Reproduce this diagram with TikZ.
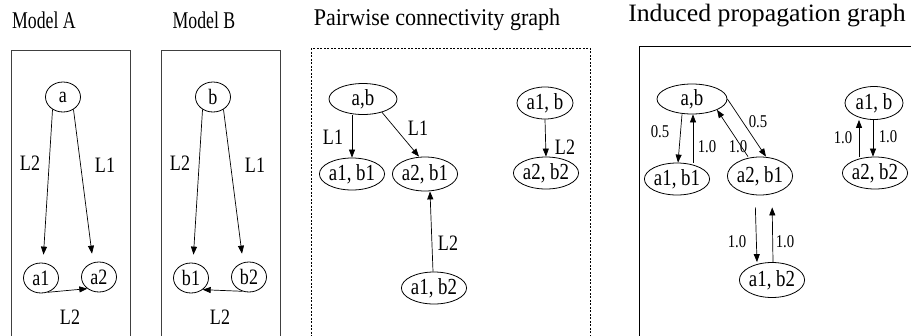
\documentclass[tikz,border=0pt]{standalone}
\usepackage{fontspec}
\usepackage{graphicx}
\setmainfont{Liberation Serif}
\usetikzlibrary{arrows.meta,shapes.geometric}
\newcommand{\sq}[2][0.82]{\scalebox{#1}[1]{#2}}
\begin{document}
\begin{tikzpicture}[x=1pt,y=-1pt,
  every node/.style={inner sep=0pt},
  title/.style={font=\fontsize{24}{26}\selectfont},
  lbl/.style={font=\fontsize{22}{24}\selectfont},
  wlbl/.style={font=\fontsize{18}{20}\selectfont},
  circ/.style={ellipse,draw,line width=0.8pt,minimum width=35pt,minimum height=30pt,font=\fontsize{22}{24}\selectfont},
  ell/.style={ellipse,draw,line width=0.8pt,minimum height=32pt,font=\fontsize{23}{25}\selectfont},
  arr/.style={-{Triangle[length=8pt,width=6pt]},line width=0.7pt},
  frame/.style={draw,line width=0.8pt}
]
\useasboundingbox (0,0) rectangle (911,335);
% titles
\node[title] (tA) at (44,20) {\sq[0.74]{Model A}};
\node[title] (tB) at (204,20) {\sq[0.74]{Model B}};
\node[title] (tC) at (437,20) {\sq[0.92]{Pairwise connectivity graph}};
\node[title,font=\fontsize{25}{27}\selectfont] (tD) at (767,16) {\sq[1.03]{Induced propagation graph}};
% frames
\draw[frame,black!75] (11,50) rectangle (130,345);
\draw[frame,black!75] (161,50) rectangle (280,345);
\draw[frame,dash pattern=on 2pt off 1.5pt] (311,48) rectangle (590,345);
\draw[frame] (639,46) rectangle (920,345);
% Model A
\node[circ] (a) at (63,97) {\sq{a}};
\node[circ] (a1) at (41,278) {\sq{a1}};
\node[circ] (a2) at (99,277) {\sq{a2}};
\draw[arr,shorten >=8pt] (a.-130) -- ([xshift=2pt]a1.north) ;
\draw[arr,shorten >=8pt] (a.-50) -- ([xshift=-6pt]a2.north);
\draw[arr] (a1.-65) -- (a2.-135);
\node[lbl] (la1) at (30,163) {\sq{L2}};
\node[lbl] (la2) at (105,165) {\sq{L1}};
\node[lbl] (la3) at (70,317) {\sq{L2}};
% Model B
\node[circ] (b) at (213,97) {\sq{b}};
\node[circ] (b1) at (191,278) {\sq{b1}};
\node[circ] (b2) at (249,277) {\sq{b2}};
\draw[arr,shorten >=8pt] (b.-130) -- ([xshift=2pt]b1.north);
\draw[arr,shorten >=8pt] (b.-50) -- ([xshift=-6pt]b2.north);
\draw[arr] (b2.-115) -- (b1.-45);
\node[lbl] (lb1) at (180,163) {\sq{L2}};
\node[lbl] (lb2) at (255,165) {\sq{L1}};
\node[lbl] (lb3) at (220,317) {\sq{L2}};
% Pairwise
\node[ell,minimum width=68pt,minimum height=31pt] (cab) at (363,99) {\sq{a,b}};
\node[ell,minimum width=60pt] (ca1b1) at (352,174) {\sq{a1, b1}};
\node[ell,minimum width=56pt,minimum height=34pt] (ca2b1) at (425,174) {\sq{a2, b1}};
\node[ell,minimum width=54pt] (ca1b2) at (434,288) {\sq{a1, b2}};
\node[ell,minimum width=56pt] (ca1b) at (545,103) {\sq{a1, b}};
\node[ell,minimum width=60pt] (ca2b2) at (546,173) {\sq{a2, b2}};
\draw[arr] ([xshift=-11pt]cab.south) -- (ca1b1.north);
\draw[arr] (cab.-35) -- ([xshift=-6pt]ca2b1.north);
\draw[arr] ([xshift=-1pt]ca1b2.north) -- ([xshift=5pt]ca2b1.south);
\draw[arr] (ca1b.south) -- (ca2b2.north);
\node[lbl] (lc1) at (333,137) {\sq{L1}};
\node[lbl] (lc2) at (418,128) {\sq{L1}};
\node[lbl] (lc3) at (448,243) {\sq{L2}};
\node[lbl] (lc4) at (565,147) {\sq{L2}};
% Induced
\node[ell,minimum width=70pt,minimum height=30pt] (dab) at (692,99) {\sq{a,b}};
\node[ell,minimum width=60pt] (da1b1) at (677,179) {\sq{a1, b1}};
\node[ell,minimum width=62pt,minimum height=38pt] (da2b1) at (760,176) {\sq{a2, b1}};
\node[ell,minimum width=60pt,minimum height=35pt] (da1b2) at (772,280) {\sq{a1, b2}};
\node[ell,minimum width=58pt,minimum height=33pt] (da1b) at (874,103) {\sq{a1, b}};
\node[ell,minimum width=60pt] (da2b2) at (875,173) {\sq{a2, b2}};
\draw[arr] ([xshift=-10pt]dab.south) -- ([xshift=1pt]da1b1.north);
\draw[arr] ([xshift=16pt]da1b1.north) -- ([xshift=1pt]dab.south);
\draw[arr] (dab.east) -- ([xshift=6pt]da2b1.north);
\draw[arr] ([xshift=-12pt]da2b1.north) -- (dab.south east);
\draw[arr,shorten <=12pt] ([xshift=-5pt]da2b1.south) -- ([xshift=-15pt]da1b2.north);
\draw[arr,shorten >=12pt] ([xshift=1pt]da1b2.north) -- ([xshift=12pt]da2b1.south);
\draw[arr] ([xshift=-1pt]da1b.south) -- ([xshift=-2pt]da2b2.north);
\draw[arr] ([xshift=-16pt]da2b2.north) -- ([xshift=-15pt]da1b.south);
\node[wlbl] (ld1) at (660,132) {\sq{0.5}};
\node[wlbl] (ld2) at (707,147) {\sq{1.0}};
\node[wlbl] (ld3) at (758,122) {\sq{0.5}};
\node[wlbl] (ld4) at (738,147) {\sq{1.0}};
\node[wlbl] (ld5) at (737,242) {\sq{1.0}};
\node[wlbl] (ld6) at (785,242) {\sq{1.0}};
\node[wlbl] (ld7) at (888,137) {\sq{1.0}};
\node[wlbl] (ld8) at (843,138) {\sq{1.0}};
\end{tikzpicture}
\end{document}
